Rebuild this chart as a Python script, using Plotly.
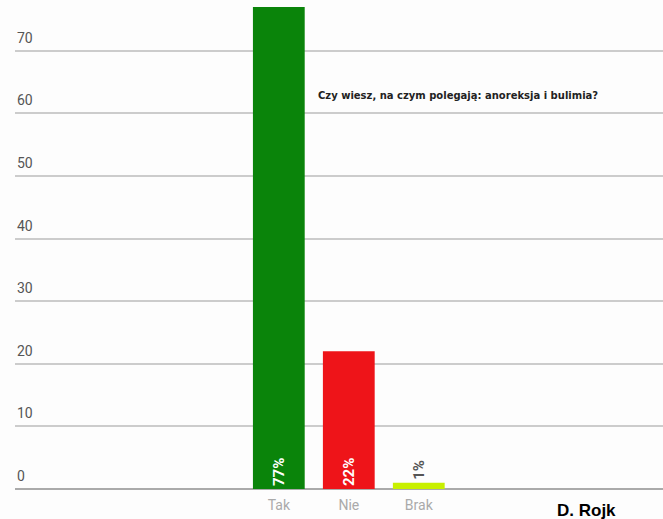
import plotly.graph_objects as go

categories = ["Tak", "Nie", "Brak"]
values = [77, 22, 1]
labels = ["77%", "22%", "1%"]
colors = ["#0a840a", "#ee1419", "#c8f000"]
tick_values = [0, 10, 20, 30, 40, 50, 60, 70]
title_text = "Czy wiesz, na czym polegają: anoreksja i bulimia?"
author = "D. Rojk"

fig = go.Figure()
fig.add_trace(go.Bar(
    x=categories, y=values,
    marker=dict(color=colors, line=dict(width=0)),
    width=0.74,
    text=["<b>" + t + "</b>" for t in labels],
    textposition=["inside", "inside", "outside"],
    insidetextanchor="start",
    textangle=-90,
    textfont=dict(family="Roboto", size=15, color=["white", "white", "#555555"]),
    constraintext="none",
    cliponaxis=False,
))

annotations = []
for v in tick_values:
    annotations.append(dict(
        x=0, xref="paper", xanchor="left",
        y=v, yref="y", yanchor="bottom", yshift=3,
        text=str(v), showarrow=False,
        font=dict(family="Roboto", size=14, color="#555555"),
    ))
annotations.append(dict(
    x=(316 - 15) / 648, xref="paper", xanchor="left",
    y=(489 - 95) / 489, yref="paper", yanchor="middle",
    text="<b>" + title_text + "</b>", showarrow=False,
    font=dict(family="DejaVu Sans", size=10, color="#222222"),
))
annotations.append(dict(
    x=(555 - 15) / 648, xref="paper", xanchor="left",
    y=(489 - 499) / 489, yref="paper", yanchor="top",
    text="<b>" + author + "</b>", showarrow=False,
    font=dict(family="Liberation Sans", size=17, color="#000000"),
))

fig.update_layout(
    width=663, height=519,
    margin=dict(l=15, r=0, t=0, b=30),
    paper_bgcolor="#fdfdfd", plot_bgcolor="#fdfdfd",
    showlegend=False,
    annotations=annotations,
    xaxis=dict(
        range=[-3.77, 5.49],
        tickfont=dict(family="Roboto", size=14, color="#aaaaaa"),
        showgrid=False, showline=False, zeroline=False,
        ticks="", ticklen=0, ticklabelstandoff=6,
    ),
    yaxis=dict(
        range=[0, 78.1],
        tickvals=tick_values,
        showticklabels=False,
        showgrid=True, gridcolor="#cccccc", gridwidth=1.5,
        zeroline=True, zerolinecolor="#aaaaaa", zerolinewidth=2,
        showline=False,
    ),
)

fig.write_html("out.html")
